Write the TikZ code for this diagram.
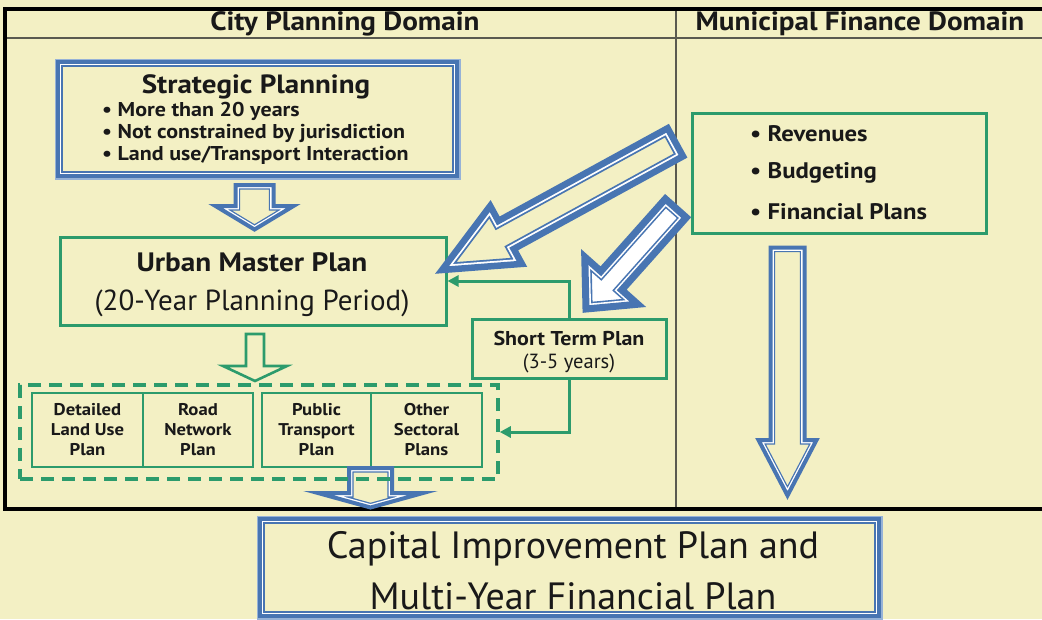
\documentclass[tikz,border=0pt]{standalone}
\usepackage{fontspec}
\setmainfont{PT Sans}[BoldFeatures={FakeStretch=1.1}]
\usetikzlibrary{arrows.meta}
\definecolor{cream}{RGB}{243,240,196}
\definecolor{grn}{RGB}{44,155,108}
\definecolor{blu}{RGB}{72,117,178}
\definecolor{lblu}{RGB}{150,178,215}
\definecolor{ink}{RGB}{25,25,25}
\definecolor{rule}{RGB}{90,90,80}
% #1 path, #2 fill, #3 outer blue width, #4 white width, #5 inner blue width
\newcommand{\dblshape}[5]{%
  \path[fill=#2] #1;
  \begin{scope}
    \clip #1;
    \draw[blu, line width={#3+2*#4+2*#5}] #1;
    \draw[white, line width={#3+2*#4}] #1;
  \end{scope}
  \draw[blu, line width=#3] #1;
}
\begin{document}
\begin{tikzpicture}[x=1pt,y=-1pt,
  hdr/.style={font=\bfseries\fontsize{26.5}{30}\selectfont, text=ink, inner sep=0},
  txt/.style={text=ink, inner sep=0},
  gbox/.style={draw=grn, line width=3, inner sep=0},
  subbox/.style={draw=grn, line width=2.8, inner sep=0, minimum height=74, align=center,
    font=\bfseries\fontsize{17}{20}\selectfont, text=ink},
  conn/.style={draw=grn, line width=3, -{Triangle[length=11pt,width=11pt]}},
  bul/.style={txt, anchor=west, font=\bfseries\fontsize{20}{22}\selectfont},
  fbul/.style={txt, anchor=west, font=\bfseries\fontsize{22.5}{26}\selectfont}
]
\useasboundingbox (0,0) rectangle (1042,619);
\clip (0,0) rectangle (1042,619);
\fill[cream] (0,0) rectangle (1042,619);

% frame
\draw[rule, line width=1.3] (5,38) -- (1042,38);
\draw[rule, line width=1.2] (676,9) -- (676,509);
\draw[black, line width=3.2] (1060,9) -- (5,9) -- (5,509) -- (1060,509);

\node[hdr] (cpd) at (345,24) {City Planning Domain};
\node[hdr] (mfd) at (860,24) {Municipal Finance Domain};

% strategic planning
\node[minimum width=399, minimum height=114, inner sep=0] (sp) at (257.5,119) {};
\draw[lblu, line width=6.6] (sp.north west) rectangle (sp.south east);
\dblshape{(sp.north west) rectangle (sp.south east)}{cream}{4}{1.5}{1.5}
\node[txt, font=\bfseries\fontsize{26.4}{30}\selectfont] (spt) at (256,87) {Strategic Planning};
\node[bul] (spb1) at (102,111) {• More than 20 years};
\node[bul] (spb2) at (102,133) {• Not constrained by jurisdiction};
\node[bul] (spb3) at (102,155) {• Land use/Transport Interaction};

% arrow strategic -> urban
\dblshape{(235.5,185) -- (273.5,185) -- (273.5,206) -- (293.5,206) -- (254.5,229.5) -- (215.5,206) -- (235.5,206) -- cycle}{cream}{4}{1.3}{1.3}

% urban master plan
\node[gbox, minimum width=386, minimum height=88] (ump) at (253,281) {};
\node[txt, font=\bfseries\fontsize{26.6}{30}\selectfont] (umpt) at (252,262) {Urban Master Plan};
\node[txt, font=\fontsize{29}{33}\selectfont] (umps) at (252,303) {(20-Year Planning Period)};

% green arrow urban -> plans
\draw[grn, line width=2.6, fill=cream] (246,334) -- (264,334) -- (264,366) -- (287,366) -- (255,381) -- (223,366) -- (246,366) -- cycle;

% sub plans
\node[subbox, minimum width=111] (dlu) at (87.5,430) {Detailed\\Land Use\\Plan};
\node[subbox, minimum width=110] (rnp) at (198,430) {Road\\Network\\Plan};
\node[subbox, minimum width=109] (ptp) at (316.5,430) {Public\\Transport\\Plan};
\node[subbox, minimum width=111] (osp) at (426.5,430) {Other\\Sectoral\\Plans};

% blue arrow plans -> CIP
\dblshape{(349,468) -- (392,468) -- (392,493) -- (423,493) -- (370.5,507.5) -- (318,493) -- (349,493) -- cycle}{none}{4}{1.3}{1.3}

\node[draw=grn, line width=3.5, dash pattern=on 13pt off 8pt, inner sep=0,
  minimum width=478, minimum height=94] (plans) at (259,432) {};

% finance box
\node[gbox, minimum width=294, minimum height=120] (fin) at (839,173) {};
\node[fbul] (fb1) at (750,134) {• Revenues};
\node[fbul] (fb2) at (750,173) {• Budgeting};
\node[fbul] (fb3) at (750,212) {• Financial Plans};

% finance down arrow
\dblshape{(770.5,247.5) -- (804.5,247.5) -- (804.5,440) -- (816.5,440) -- (787.5,495.5) -- (758.5,440) -- (770.5,440) -- cycle}{cream}{4}{1.3}{1.3}

% short term plan
\node[gbox, minimum width=194, minimum height=59] (stp) at (569,348.5) {};
\node[txt, font=\bfseries\fontsize{20}{23}\selectfont] (stpt) at (569,338) {Short Term Plan};
\node[txt, font=\fontsize{20.5}{23}\selectfont] (stps) at (569,363) {(3-5 years)};
\draw[conn] (stp.north) |- (ump.east);
\draw[conn] (stp.south) |- (plans.east);

% diagonal arrows from finance
\begin{scope}[shift={(442,270)}, rotate=28.7]
  \dblshape{(0,0) -- (73,33) -- (73,16) -- (266,16) -- (266,-16) -- (73,-16) -- (73,-33) -- cycle}{cream}{6.5}{1.8}{1.8}
\end{scope}
\begin{scope}[shift={(586,309)}, rotate=48.3]
  \dblshape{(0,0) -- (38,35.5) -- (38,14) -- (135,14) -- (135,-14) -- (38,-14) -- (38,-35.5) -- cycle}{white}{7}{1.6}{1.6}
\end{scope}

% capital improvement plan
\node[minimum width=619, minimum height=97, inner sep=0] (cip) at (569.5,567.5) {};
\draw[lblu, line width=6.6] (cip.north west) rectangle (cip.south east);
\dblshape{(cip.north west) rectangle (cip.south east)}{cream}{4}{1.5}{1.5}
\node[txt, font=\fontsize{38}{42}\selectfont] (cip1) at (573,549) {Capital Improvement Plan and};
\node[txt, font=\fontsize{38}{42}\selectfont] (cip2) at (573,596) {Multi-Year Financial Plan};
\end{tikzpicture}
\end{document}
